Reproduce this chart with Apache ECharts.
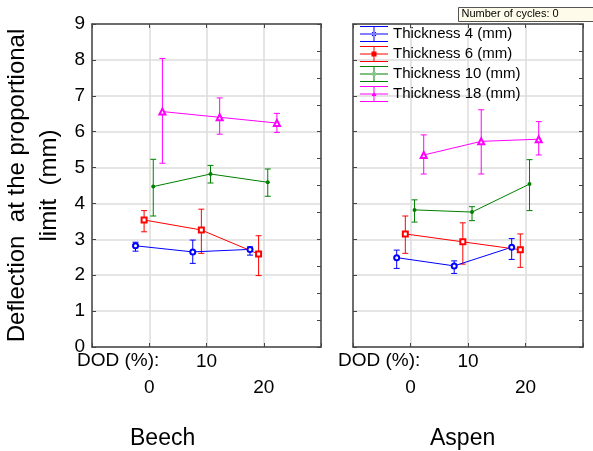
<!DOCTYPE html>
<html>
<head>
<meta charset="utf-8">
<script src="https://cdn.jsdelivr.net/npm/echarts@6/dist/echarts.min.js"></script>
<style>
  html, body { margin: 0; padding: 0; background: #fff; }
  #chart { width: 593px; height: 451px; }
</style>
</head>
<body>
<div id="chart"></div>
<script>
// DOD levels (%) on the x axis
var dodLevels = [0, 10, 20];
var thicknessNames = ['Thickness 4 (mm)', 'Thickness 6 (mm)', 'Thickness 10 (mm)', 'Thickness 18 (mm)'];
var panelNames = ['Beech', 'Aspen'];

// Beech: mean deflection and error bar ends
var beech4 = [2.82, 2.65, 2.72];
var beech4Lo = [2.67, 2.33, 2.56];
var beech4Hi = [2.92, 2.98, 2.79];
var beech6 = [3.54, 3.26, 2.59];
var beech6Lo = [3.21, 2.61, 1.99];
var beech6Hi = [3.80, 3.84, 3.10];
var beech10 = [4.47, 4.82, 4.59];
var beech10Lo = [3.65, 4.57, 4.20];
var beech10Hi = [5.23, 5.06, 4.96];
var beech18 = [6.56, 6.40, 6.24];
var beech18Lo = [5.12, 5.93, 5.98];
var beech18Hi = [8.04, 6.94, 6.51];

// Aspen
var aspen4 = [2.49, 2.26, 2.78];
var aspen4Lo = [2.19, 2.05, 2.44];
var aspen4Hi = [2.70, 2.40, 3.02];
var aspen6 = [3.15, 2.93, 2.71];
var aspen6Lo = [2.61, 2.31, 2.22];
var aspen6Hi = [3.65, 3.46, 3.15];
var aspen10 = [3.82, 3.76, 4.54];
var aspen10Lo = [3.48, 3.52, 3.80];
var aspen10Hi = [4.10, 3.91, 5.22];
var aspen18 = [5.35, 5.73, 5.79];
var aspen18Lo = [4.82, 4.82, 5.35];
var aspen18Hi = [5.91, 6.61, 6.28];

var colors = ['#0000ff', '#ff0000', '#008000', '#ff00ff'];
var symbols = ['emptyCircle', 'emptyRect', 'circle', 'emptyTriangle'];
var symbolSizes = [5, 5, 4, 6];
var jitter = [-2.4, -0.9, 0.7, 2.3]; // horizontal dodge so the bars don't overlap
var fontFam = 'Arial, "Liberation Sans", sans-serif';
var frameColor = '#444';
var gridColor = '#dcdcdc';

var panels = [
    { means: [beech4, beech6, beech10, beech18], lo: [beech4Lo, beech6Lo, beech10Lo, beech18Lo], hi: [beech4Hi, beech6Hi, beech10Hi, beech18Hi] },
    { means: [aspen4, aspen6, aspen10, aspen18], lo: [aspen4Lo, aspen6Lo, aspen10Lo, aspen18Lo], hi: [aspen4Hi, aspen6Hi, aspen10Hi, aspen18Hi] }
];

var gridLefts = [91, 353];

function errorBarRender(color) {
    return function (params, api) {
        var x = api.value(0);
        var top = api.coord([x, api.value(2)]);
        var bot = api.coord([x, api.value(1)]);
        var w = 3;
        var st = { stroke: color, lineWidth: 1 };
        return {
            type: 'group',
            children: [
                { type: 'line', shape: { x1: top[0], y1: top[1], x2: bot[0], y2: bot[1] }, style: st },
                { type: 'line', shape: { x1: top[0] - w, y1: top[1], x2: top[0] + w, y2: top[1] }, style: st },
                { type: 'line', shape: { x1: bot[0] - w, y1: bot[1], x2: bot[0] + w, y2: bot[1] }, style: st }
            ]
        };
    };
}

var grids = [], xAxes = [], yAxes = [], series = [];

panels.forEach(function (p, g) {
    grids.push({ left: gridLefts[g], top: 24, width: 230, height: 323 });

    // bottom axis, first label row ("10")
    xAxes.push({
        gridIndex: g, type: 'value', min: -10, max: 30, interval: 10, position: 'bottom',
        axisLine: { show: true, onZero: false, lineStyle: { color: frameColor, width: 1.5 } },
        axisTick: { show: true, inside: true, length: 4, lineStyle: { color: frameColor } },
        axisLabel: {
            margin: 5, fontSize: 19, color: '#000', fontFamily: fontFam,
            formatter: function (v) { return v === 10 ? '10' : ''; }
        },
        splitLine: { show: true, lineStyle: { color: gridColor, width: 1.5 } }
    });
    // bottom axis, second label row ("0", "20")
    xAxes.push({
        gridIndex: g, type: 'value', min: -10, max: 30, interval: 10, position: 'bottom',
        axisLine: { show: false, onZero: false }, axisTick: { show: false }, splitLine: { show: false },
        axisLabel: {
            margin: 31, fontSize: 19, color: '#000', fontFamily: fontFam,
            formatter: function (v) { return (v === 0 || v === 20) ? String(v) : ''; }
        }
    });
    // top frame
    xAxes.push({
        gridIndex: g, type: 'value', min: -10, max: 30, interval: 10, position: 'top',
        axisLine: { show: true, onZero: false, lineStyle: { color: frameColor, width: 1.5 } },
        axisTick: { show: true, inside: true, length: 4, lineStyle: { color: frameColor } },
        axisLabel: { show: false }, splitLine: { show: false }
    });

    yAxes.push({
        gridIndex: g, type: 'value', min: 0, max: 9, interval: 1, position: 'left',
        name: g === 0 ? 'Deflection  at the proportional\nlimit  (mm)' : '',
        nameLocation: 'middle', nameGap: 27, nameRotate: 90,
        nameTextStyle: { fontSize: 24, lineHeight: 32, color: '#000', fontFamily: fontFam },
        axisLine: { show: true, onZero: false, lineStyle: { color: frameColor, width: 1.5 } },
        axisTick: { show: true, inside: true, length: 4, lineStyle: { color: frameColor } },
        axisLabel: { show: g === 0, margin: 7, fontSize: 19, color: '#000', fontFamily: fontFam },
        splitLine: { show: true, lineStyle: { color: gridColor, width: 1.5 } }
    });
    yAxes.push({
        gridIndex: g, type: 'value', min: 0, max: 9, interval: 0.75, position: 'right',
        axisLine: { show: true, onZero: false, lineStyle: { color: frameColor, width: 1.5 } },
        axisTick: { show: true, inside: true, length: 4, lineStyle: { color: frameColor } },
        axisLabel: { show: false }, splitLine: { show: false }
    });

    for (var i = 0; i < 4; i++) {
        var pts = [], bars = [];
        for (var j = 0; j < dodLevels.length; j++) {
            var x = dodLevels[j] + jitter[i];
            pts.push([x, p.means[i][j]]);
            bars.push([x, p.lo[i][j], p.hi[i][j]]);
        }
        series.push({
            type: 'custom', name: 'err' + g + i, xAxisIndex: 3 * g, yAxisIndex: 2 * g,
            renderItem: errorBarRender(colors[i]), data: bars, silent: true, z: 2
        });
        series.push({
            type: 'line', name: thicknessNames[i], xAxisIndex: 3 * g, yAxisIndex: 2 * g,
            data: pts, symbol: symbols[i], symbolSize: symbolSizes[i],
            color: colors[i], lineStyle: { width: 1, color: colors[i] },
            itemStyle: { color: colors[i], borderWidth: 1.2 },
            animation: false, z: 3
        });
    }
});

// legend icon: horizontal line with error-bar caps and a marker
var capPath = 'M0 0H28V1H0Z M0 15H28V16H0Z M0 7.5H28V8.5H0Z M13.5 0H14.5V16H13.5Z ';
var markerPaths = [
    'M11.5 8A2.5 2.5 0 1 0 16.5 8A2.5 2.5 0 1 0 11.5 8Z',
    'M11.5 5.5H16.5V10.5H11.5Z',
    'M12 8A2 2 0 1 0 16 8A2 2 0 1 0 12 8Z',
    'M14 5.5L16.5 10H11.5Z'
];

var legendData = thicknessNames.map(function (n, i) {
    return { name: n, icon: 'path://' + capPath + markerPaths[i], itemStyle: { color: colors[i], borderWidth: 0 } };
});

var chart = echarts.init(document.getElementById('chart'));
chart.setOption({
    animation: false,
    backgroundColor: '#fff',
    textStyle: { fontFamily: fontFam },
    grid: grids,
    xAxis: xAxes,
    yAxis: yAxes,
    legend: {
        data: legendData, orient: 'vertical', left: 360, top: 26, padding: 0,
        itemWidth: 28, itemHeight: 16, itemGap: 4, selectedMode: false,
        textStyle: { fontSize: 15, color: '#000', fontFamily: fontFam }
    },
    graphic: [
        { type: 'text', left: 77, top: 351, style: { text: 'DOD (%):', fontSize: 19, fill: '#000', fontFamily: fontFam } },
        { type: 'text', left: 338, top: 351, style: { text: 'DOD (%):', fontSize: 19, fill: '#000', fontFamily: fontFam } },
        { type: 'text', left: 130, top: 427, style: { text: panelNames[0], fontSize: 23, fill: '#000', fontFamily: fontFam } },
        { type: 'text', left: 430, top: 427, style: { text: panelNames[1], fontSize: 23, fill: '#000', fontFamily: fontFam } },
        {
            type: 'group', left: 458, top: 7,
            children: [
                { type: 'rect', shape: { x: 0, y: 0, width: 140, height: 14 }, style: { fill: '#fffbea', stroke: '#555', lineWidth: 1 } },
                { type: 'text', x: 3, y: 1, style: { text: 'Number of cycles: 0', fontSize: 11, fill: '#000', fontFamily: fontFam } }
            ]
        }
    ],
    series: series
});
</script>
</body>
</html>
